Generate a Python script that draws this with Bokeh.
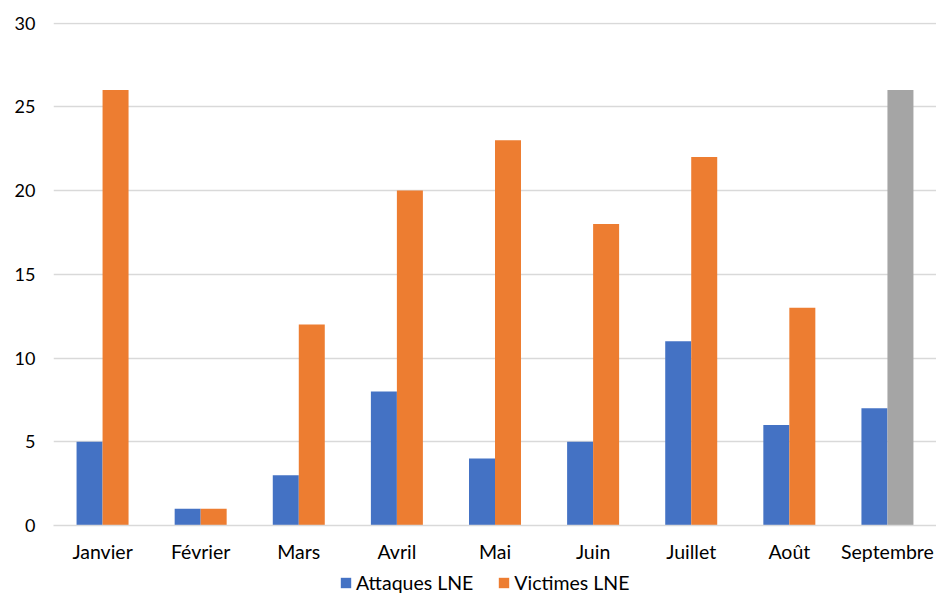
from bokeh.plotting import figure
from bokeh.models import ColumnDataSource, FactorRange, Range1d, Legend, LegendItem, SingleIntervalTicker
from bokeh.layouts import column
from bokeh.transform import dodge
from bokeh.embed import file_html
from bokeh.resources import INLINE

mois = ["Janvier", "Février", "Mars", "Avril", "Mai", "Juin", "Juillet", "Août", "Septembre"]
attaques = [5, 1, 3, 8, 4, 5, 11, 6, 7]
victimes = [26, 1, 12, 20, 23, 18, 22, 13, 26]
couleurs_victimes = ["#ED7D31"] * 8 + ["#A5A5A5"]
series = ["Attaques LNE", "Victimes LNE"]
couleurs_series = ["#4472C4", "#ED7D31"]

src = ColumnDataSource(dict(mois=mois, attaques=attaques, victimes=victimes, cv=couleurs_victimes))

FONT = "Lato"
W = 936
LEFT = 53

p = figure(x_range=FactorRange(*mois, range_padding=0), y_range=Range1d(0, 30.03),
           width=W, height=565, output_backend="svg", toolbar_location=None,
           min_border_left=LEFT, min_border_right=0, min_border_top=22, min_border_bottom=40)

r1 = p.vbar(x=dodge("mois", -0.1325, range=p.x_range), top="attaques", width=0.265,
            source=src, color=couleurs_series[0], line_color=None)
r2 = p.vbar(x=dodge("mois", 0.1325, range=p.x_range), top="victimes", width=0.265,
            source=src, fill_color="cv", line_color=None)

p.outline_line_color = None
p.background_fill_color = "white"
p.xgrid.grid_line_color = None
p.ygrid.grid_line_color = "#D9D9D9"
p.ygrid.grid_line_width = 1.3
p.yaxis.ticker = SingleIntervalTicker(interval=5)

for ax in (p.xaxis, p.yaxis):
    ax.axis_line_color = None
    ax.major_tick_line_color = None
    ax.minor_tick_line_color = None
    ax.major_tick_out = 0
    ax.major_tick_in = 0
    ax.minor_tick_out = 0
    ax.minor_tick_in = 0
    ax.major_label_text_font = FONT
    ax.major_label_text_color = "#000000"

p.yaxis.major_label_text_font_size = "18px"
p.xaxis.major_label_text_font_size = "19.5px"
p.yaxis.major_label_standoff = 18
p.xaxis.axis_line_color = "#D9D9D9"
p.xaxis.axis_line_width = 1.3
p.xaxis.major_label_standoff = 14

# legend figure
lf = figure(width=W, height=29, output_backend="svg", toolbar_location=None,
            x_range=Range1d(0, 1), y_range=Range1d(0, 1),
            x_axis_location=None, y_axis_location=None,
            min_border_left=LEFT, min_border_right=0, min_border_top=0, min_border_bottom=0)
lf.outline_line_color = None
lf.xgrid.grid_line_color = None
lf.ygrid.grid_line_color = None
offscreen = ColumnDataSource(dict(x=[5], top=[5]))
items = []
for name, col in zip(series, couleurs_series):
    rr = lf.vbar(x="x", top="top", width=0.1, source=offscreen, fill_color=col, line_color=None)
    items.append(LegendItem(label=name, renderers=[rr]))

legend = Legend(items=items, orientation="horizontal", location=(339 - LEFT, 0),
                label_text_font=FONT, label_text_font_size="19.5px", label_text_color="#000000",
                glyph_width=13, glyph_height=13, spacing=24, label_standoff=4,
                border_line_color=None, background_fill_alpha=0, padding=0, margin=0)
lf.add_layout(legend, "center")

layout = column(p, lf, spacing=0)
open("out.html", "w").write(file_html(layout, INLINE))
